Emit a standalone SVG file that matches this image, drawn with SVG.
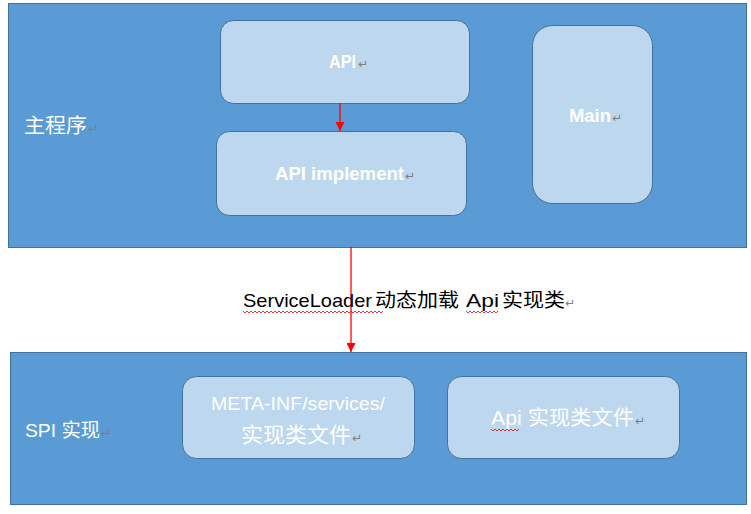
<svg xmlns="http://www.w3.org/2000/svg" width="751" height="514" viewBox="0 0 751 514">
<defs>
<style>
.big{fill:#5b9bd5;stroke:#41719c;stroke-width:1}
.box{fill:#bdd7ee;stroke:#41719c;stroke-width:1}
.wt{fill:#ffffff;font-family:"Liberation Sans","Noto Sans CJK SC",sans-serif;font-size:18px}
.bt{fill:#000000;font-family:"Liberation Sans","Noto Sans CJK SC",sans-serif;font-size:19px}
.pm{fill:#7f7f7f;font-family:"DejaVu Sans",sans-serif;font-size:12px;font-weight:normal}
.con{stroke:#ff0000;stroke-width:1.3;fill:none}
.sq{stroke:#e02020;stroke-width:0.9;fill:none}
</style>
<marker id="ah" viewBox="0 0 10 10" refX="10" refY="5" markerWidth="9" markerHeight="9" markerUnits="userSpaceOnUse" orient="auto">
<path d="M0,0 L10,5 L0,10 z" fill="#ff0000"/>
</marker>
</defs>
<rect width="751" height="514" fill="#ffffff"/>
<g id="main-program">
<rect class="big" x="8.5" y="3.5" width="738" height="244"/>
<text class="wt" x="24" y="133" style="font-size:20px"><tspan textLength="63" lengthAdjust="spacingAndGlyphs">主程序</tspan><tspan class="pm" dx="1">↵</tspan></text>
</g>
<g id="api">
<rect class="box" x="220.5" y="20.5" width="249" height="83" rx="13"/>
<text class="wt" x="329" y="68" font-weight="bold"><tspan textLength="27" lengthAdjust="spacingAndGlyphs">API</tspan><tspan class="pm" dx="2">↵</tspan></text>
</g>
<g id="api-implement">
<rect class="box" x="216.5" y="131.5" width="250" height="84" rx="13"/>
<text class="wt" x="275" y="180" font-weight="bold"><tspan textLength="129" lengthAdjust="spacingAndGlyphs">API implement</tspan><tspan class="pm" dx="1">↵</tspan></text>
</g>
<g id="main">
<rect class="box" x="532.5" y="25.5" width="120" height="178" rx="20"/>
<text class="wt" x="569" y="122" font-weight="bold"><tspan textLength="42" lengthAdjust="spacingAndGlyphs">Main</tspan><tspan class="pm" dx="1">↵</tspan></text>
</g>
<g id="spi">
<rect class="big" x="10.5" y="352.5" width="736" height="152"/>
<text class="wt" x="25" y="437" style="font-size:19px"><tspan textLength="75" lengthAdjust="spacingAndGlyphs">SPI 实现</tspan><tspan class="pm" dx="1">↵</tspan></text>
</g>
<g id="meta-inf">
<rect class="box" x="182.5" y="376.5" width="232" height="82" rx="14"/>
<text class="wt" x="211" y="410" style="font-size:19px" textLength="174" lengthAdjust="spacingAndGlyphs">META-INF/services/</text>
<text class="wt" x="241" y="442" style="font-size:21px"><tspan textLength="110" lengthAdjust="spacingAndGlyphs">实现类文件</tspan><tspan class="pm" dx="1">↵</tspan></text>
</g>
<g id="api-impl-file">
<rect class="box" x="447.5" y="376.5" width="232" height="82" rx="14"/>
<text class="wt" x="491" y="425" style="font-size:20px"><tspan textLength="143" lengthAdjust="spacingAndGlyphs">Api 实现类文件</tspan><tspan class="pm" dx="1">↵</tspan></text>
<path class="sq" d="M491,429 l2,2 l2,-2 l2,2 l2,-2 l2,2 l2,-2 l2,2 l2,-2 l2,2 l2,-2 l2,2 l2,-2 l2,2 l2,-2"/>
</g>
<g id="connectors">
<line class="con" x1="340" y1="103" x2="340" y2="131" marker-end="url(#ah)"/>
<line class="con" x1="351" y1="247" x2="351" y2="352" marker-end="url(#ah)"/>
</g>
<g id="edge-label">
<text class="bt" x="243" y="307"><tspan textLength="129" lengthAdjust="spacingAndGlyphs">ServiceLoader</tspan><tspan x="375" textLength="84" lengthAdjust="spacingAndGlyphs">动态加载</tspan><tspan x="466" textLength="33" lengthAdjust="spacingAndGlyphs">Api</tspan><tspan x="502" textLength="63" lengthAdjust="spacingAndGlyphs">实现类</tspan><tspan class="pm">↵</tspan></text>
<path class="sq" d="M243,311 l2,2 l2,-2 l2,2 l2,-2 l2,2 l2,-2 l2,2 l2,-2 l2,2 l2,-2 l2,2 l2,-2 l2,2 l2,-2 l2,2 l2,-2 l2,2 l2,-2 l2,2 l2,-2 l2,2 l2,-2 l2,2 l2,-2 l2,2 l2,-2 l2,2 l2,-2 l2,2 l2,-2 l2,2 l2,-2 l2,2 l2,-2 l2,2 l2,-2 l2,2 l2,-2 l2,2 l2,-2 l2,2 l2,-2 l2,2 l2,-2 l2,2 l2,-2 l2,2 l2,-2 l2,2 l2,-2 l2,2 l2,-2 l2,2 l2,-2 l2,2 l2,-2 l2,2 l2,-2 l2,2 l2,-2 l2,2 l2,-2 l2,2 l2,-2 l2,2 l2,-2 l2,2 l2,-2 l2,2 l2,-2"/>
<path class="sq" d="M466,311 l2,2 l2,-2 l2,2 l2,-2 l2,2 l2,-2 l2,2 l2,-2 l2,2 l2,-2 l2,2 l2,-2 l2,2 l2,-2 l2,2 l2,-2"/>
</g>
</svg>
